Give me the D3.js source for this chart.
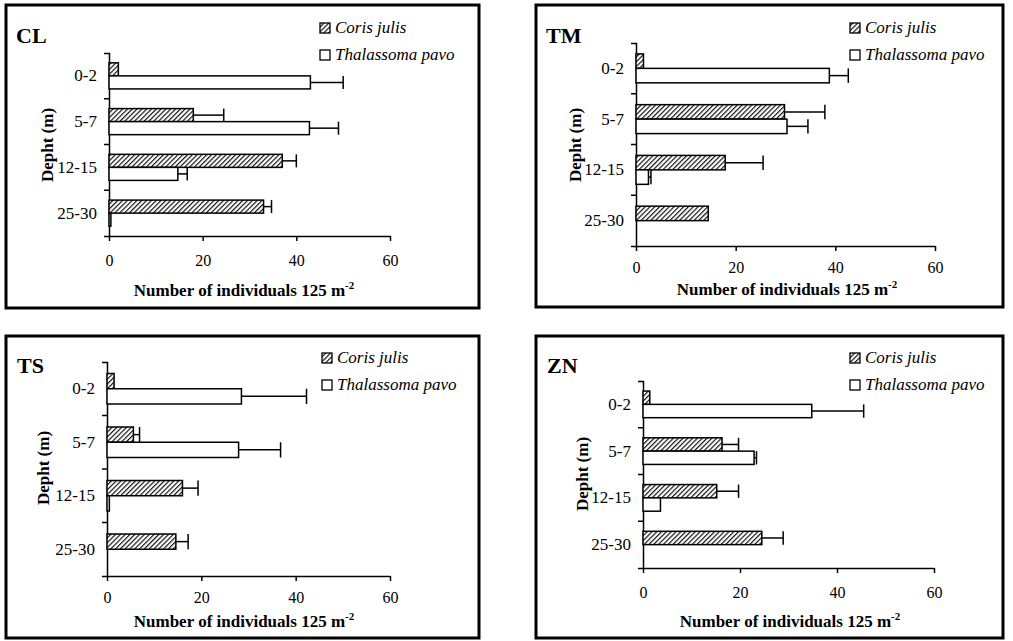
<!DOCTYPE html>
<html>
<head>
<meta charset="utf-8">
<script src="https://cdn.jsdelivr.net/npm/d3@7"></script>
<style>
  body { margin: 0; background: #fff; }
  svg { display: block; }
</style>
</head>
<body>
<div id="chart"></div>
<script>
// Depth classes and tick labels
const depths = ["0-2", "5-7", "12-15", "25-30"];
const xTicks = [0, 20, 40, 60];
const seriesNames = ["Coris julis", "Thalassoma pavo"];

// Mean number of individuals per 125 m2, with error
const corisCL = [2, 18, 37, 33];
const corisErrCL = [0, 6.5, 3, 1.7];
const pavoCL = [43, 42.8, 14.7, 0.4];
const pavoErrCL = [7, 6.2, 2, 0];

const corisTM = [1.5, 29.8, 17.9, 14.5];
const corisErrTM = [0, 8.1, 7.6, 0];
const pavoTM = [38.8, 30.3, 2.5, 0];
const pavoErrTM = [3.8, 4.2, 0.5, 0];

const corisTS = [1.5, 5.6, 16, 14.6];
const corisErrTS = [0, 1.3, 3.3, 2.6];
const pavoTS = [28.5, 27.9, 0.5, 0];
const pavoErrTS = [13.8, 8.9, 0, 0];

const corisZN = [1.4, 16.3, 15.2, 24.5];
const corisErrZN = [0, 3.4, 4.5, 4.4];
const pavoZN = [34.8, 22.9, 3.6, 0];
const pavoErrZN = [10.7, 0.5, 0, 0];

// Panel layout (pixel boxes in the 1013x641 page)
const panels = [
    { name: "CL", coris: corisCL, corisErr: corisErrCL, pavo: pavoCL, pavoErr: pavoErrCL,
      frame: [6, 5, 473, 303], plot: [109, 390, 53, 236], label: [16, 43], legend: [320, 23],
      yTitle: [47, 145], xTitle: [244, 296], tickOffset: 30 },
    { name: "TM", coris: corisTM, corisErr: corisErrTM, pavo: pavoTM, pavoErr: pavoErrTM,
      frame: [536, 5, 467, 302], plot: [636, 935, 43, 246], label: [546, 43], legend: [850, 23],
      yTitle: [575, 145], xTitle: [787, 295], tickOffset: 27 },
    { name: "TS", coris: corisTS, corisErr: corisErrTS, pavo: pavoTS, pavoErr: pavoErrTS,
      frame: [6, 336, 473, 302], plot: [107, 390, 362, 576], label: [17, 373], legend: [322, 353],
      yTitle: [43, 468], xTitle: [244, 627], tickOffset: 27 },
    { name: "ZN", coris: corisZN, corisErr: corisErrZN, pavo: pavoZN, pavoErr: pavoErrZN,
      frame: [536, 336, 467, 302], plot: [643, 934, 381, 568], label: [547, 373], legend: [850, 353],
      yTitle: [582, 474], xTitle: [790, 627], tickOffset: 30 }
];

const FONT = "'Liberation Serif', 'Times New Roman', serif";

const svg = d3.select("#chart")
    .append("svg")
    .attr("width", 1013)
    .attr("height", 641);

// Diagonal hatch for Coris julis
const defs = svg.append("defs");
const hatch = defs.append("pattern")
    .attr("id", "hatch")
    .attr("patternUnits", "userSpaceOnUse")
    .attr("width", 3.4)
    .attr("height", 3.4)
    .attr("patternTransform", "rotate(45)");
hatch.append("rect").attr("width", 3.4).attr("height", 3.4).attr("fill", "#fff");
hatch.append("line")
    .attr("x1", 0.6).attr("y1", 0).attr("x2", 0.6).attr("y2", 3.4)
    .attr("stroke", "#000").attr("stroke-width", 1.1);

panels.forEach(p => {
    const g = svg.append("g");

    // Frame
    g.append("rect")
        .attr("x", p.frame[0]).attr("y", p.frame[1])
        .attr("width", p.frame[2]).attr("height", p.frame[3])
        .attr("fill", "none").attr("stroke", "#000").attr("stroke-width", 3);

    const x = d3.scaleLinear().domain([0, 60]).range([p.plot[0], p.plot[1]]);
    const y = d3.scaleBand().domain(depths).range([p.plot[2], p.plot[3]]).padding(0);
    const barH = y.bandwidth() * 0.285;

    // x axis
    const xAxis = g.append("g")
        .attr("transform", `translate(0,${p.plot[3]})`)
        .call(d3.axisBottom(x).tickValues(xTicks).tickSize(5).tickSizeOuter(0).tickPadding(p.tickOffset - 16));
    xAxis.select(".domain").attr("stroke-width", 1.5);
    xAxis.selectAll(".tick line").attr("stroke-width", 1.5);
    xAxis.selectAll("text")
        .attr("font-family", FONT).attr("font-size", 16).attr("fill", "#000");

    // y axis: labels at band centres, ticks on band boundaries
    const yAxis = g.append("g")
        .attr("transform", `translate(${p.plot[0]},0)`)
        .call(d3.axisLeft(y).tickSize(0).tickSizeOuter(5).tickPadding(12));
    yAxis.select(".domain").attr("stroke-width", 1.5);
    yAxis.selectAll("text")
        .attr("font-family", FONT).attr("font-size", 17).attr("fill", "#000");
    depths.slice(1).forEach(d => {
        yAxis.append("line")
            .attr("x1", -5).attr("x2", 0)
            .attr("y1", y(d)).attr("y2", y(d))
            .attr("stroke", "#000").attr("stroke-width", 1.5);
    });

    // Bars and error bars
    const series = [
        { vals: p.coris, errs: p.corisErr, fill: "url(#hatch)", off: -barH },
        { vals: p.pavo, errs: p.pavoErr, fill: "#fff", off: 0 }
    ];
    series.forEach(s => {
        depths.forEach((d, i) => {
            const yc = y(d) + y.bandwidth() / 2 + s.off;
            if (s.vals[i] > 0) {
                g.append("rect")
                    .attr("x", x(0))
                    .attr("y", yc)
                    .attr("width", x(s.vals[i]) - x(0))
                    .attr("height", barH)
                    .attr("fill", s.fill)
                    .attr("stroke", "#000")
                    .attr("stroke-width", 1.5);
            }
            if (s.errs[i] > 0) {
                const ym = yc + barH / 2;
                const xe = x(s.vals[i] + s.errs[i]);
                g.append("line")
                    .attr("x1", x(s.vals[i])).attr("x2", xe)
                    .attr("y1", ym).attr("y2", ym)
                    .attr("stroke", "#000").attr("stroke-width", 1.5);
                g.append("line")
                    .attr("x1", xe).attr("x2", xe)
                    .attr("y1", ym - barH / 2).attr("y2", ym + barH / 2)
                    .attr("stroke", "#000").attr("stroke-width", 1.5);
            }
        });
    });

    // Panel letter
    g.append("text")
        .attr("x", p.label[0]).attr("y", p.label[1])
        .attr("font-family", FONT).attr("font-size", 22).attr("font-weight", "bold")
        .text(p.name);

    // Legend
    seriesNames.forEach((name, i) => {
        const ly = p.legend[1] + i * 27;
        g.append("rect")
            .attr("x", p.legend[0]).attr("y", ly)
            .attr("width", 10).attr("height", 10)
            .attr("fill", i === 0 ? "url(#hatch)" : "#fff")
            .attr("stroke", "#000").attr("stroke-width", 1.3);
        g.append("text")
            .attr("x", p.legend[0] + 15).attr("y", ly + 10)
            .attr("font-family", FONT).attr("font-size", 17).attr("font-style", "italic")
            .text(name);
    });

    // Axis titles
    g.append("text")
        .attr("transform", `translate(${p.yTitle[0]},${p.yTitle[1]}) rotate(-90)`)
        .attr("text-anchor", "middle")
        .attr("dy", "0.35em")
        .attr("font-family", FONT).attr("font-size", 17).attr("font-weight", "bold")
        .text("Depht (m)");

    const xt = g.append("text")
        .attr("x", p.xTitle[0]).attr("y", p.xTitle[1])
        .attr("text-anchor", "middle")
        .attr("font-family", FONT).attr("font-size", 17).attr("font-weight", "bold");
    xt.append("tspan").text("Number of individuals 125 m");
    xt.append("tspan").attr("dy", -7).attr("font-size", 11).text("-2");
});
</script>
</body>
</html>
